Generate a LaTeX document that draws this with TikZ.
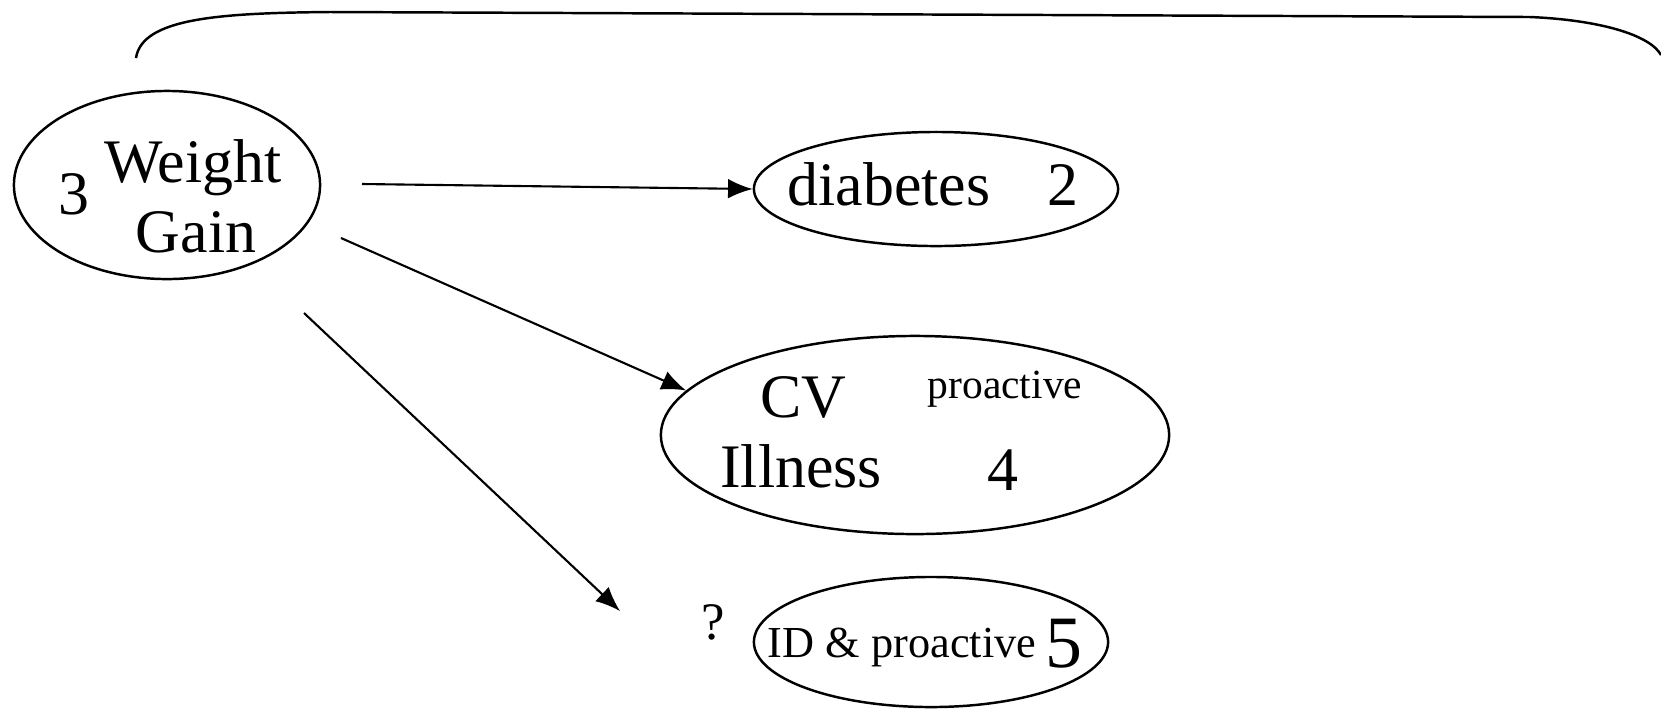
\documentclass[tikz,border=0pt]{standalone}
\usepackage{fontspec}
\setmainfont{Liberation Serif}
\usetikzlibrary{shapes.geometric,arrows.meta}
\begin{document}
\begin{tikzpicture}[x=0.01cm,y=-0.01cm,
  oval/.style={draw,ellipse,line width=0.7pt,inner sep=0pt},
  big/.style={inner sep=0pt,anchor=base,font=\fontsize{17.6pt}{20pt}\selectfont},
  small/.style={inner sep=0pt,anchor=base,font=\fontsize{11.8pt}{14pt}\selectfont},
  conn/.style={line width=0.6pt,-{Latex[length=7pt,width=5.6pt]}}]
\useasboundingbox (0,0) rectangle (1661,711);
% top bracket curve
\draw[line width=0.7pt] (136,58) .. controls (142,18) and (220,13) .. (330,12) -- (1530,17) .. controls (1600,20) and (1650,35) .. (1661,55);
% ellipses
\node[oval,minimum width=3.06cm,minimum height=1.88cm] (wg) at (167,185) {};
\node[oval,minimum width=3.64cm,minimum height=1.14cm] (db) at (936,189) {};
\node[oval,minimum width=5.08cm,minimum height=1.98cm] (cv) at (915,435) {};
\node[oval,minimum width=3.54cm,minimum height=1.30cm] (id) at (931,642) {};
% texts
\node[big] (t3) at (74,214) {3};
\node[big] (tw) at (193,182) {Weight};
\node[big] (tg) at (196,252) {Gain};
\node[big] (td) at (889,205) {diabetes};
\node[big] (t2) at (1063,205) {2};
\node[big] (tcv) at (803,417) {CV};
\node[small] (tp) at (1005,398) {proactive};
\node[big] (ti) at (801,487) {Illness};
\node[big] (t4) at (1003,490) {4};
\node[font=\fontsize{15pt}{17pt}\selectfont,inner sep=0pt,anchor=base] (tq) at (713,639) {?};
\node[font=\fontsize{12.6pt}{15pt}\selectfont,inner sep=0pt,anchor=base] (tid) at (902,657) {ID \& proactive};
\node[font=\fontsize{21pt}{24pt}\selectfont,inner sep=0pt,anchor=base] (t5) at (1064,667) {5};
% connectors
\coordinate (s1) at (362,184);
\coordinate (s2) at (341,238);
\coordinate (s3) at (304,313);
\coordinate (e3) at (620,611);
\draw[conn] (s1) -- (db.west);
\draw[conn] (s2) -- (cv.169);
\draw[conn] (s3) -- (e3);
\end{tikzpicture}
\end{document}
